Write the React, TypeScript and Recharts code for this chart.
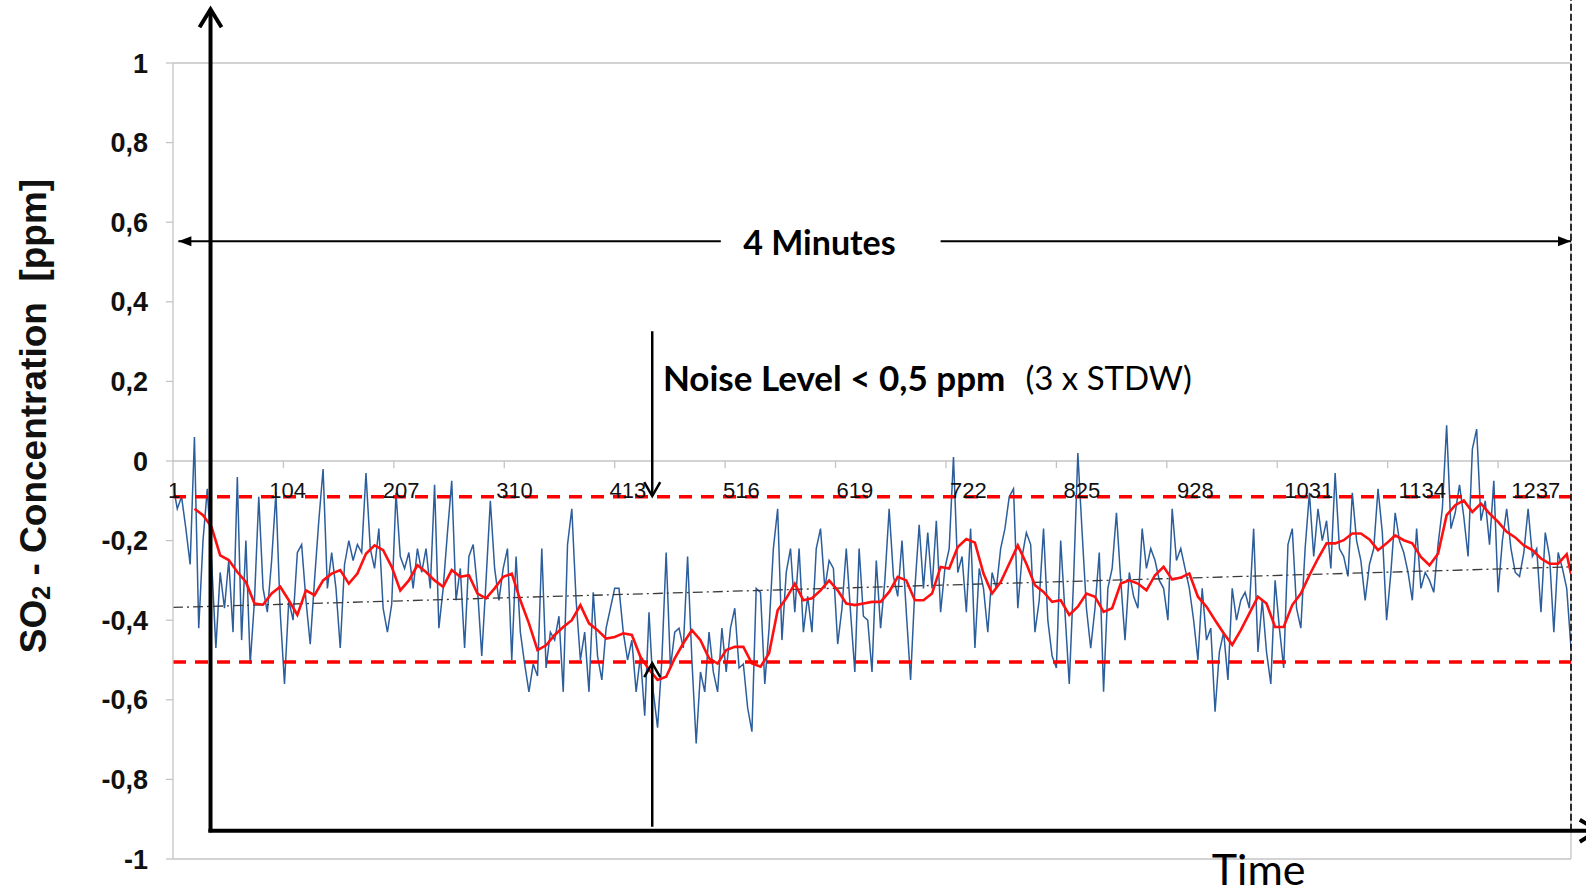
import React from "react";
import {
  LineChart,
  Line,
  XAxis,
  YAxis,
  ReferenceLine,
  ReferenceDot,
} from "recharts";

// SO2 raw signal, read every 4th sample (sample 1, 5, 9, ... 1305)
const SO2_FIRST = 1;
const SO2_STEP = 4;
const so2Values = [
  -0.06, -0.12, -0.09, -0.17, -0.26, 0.06, -0.42, -0.2, -0.07, -0.25,
  -0.47, -0.28, -0.37, -0.25, -0.43, -0.04, -0.45, -0.2, -0.51, -0.35,
  -0.09, -0.32, -0.38, -0.25, -0.08, -0.38, -0.56, -0.35, -0.4, -0.23,
  -0.21, -0.35, -0.46, -0.3, -0.15, -0.02, -0.32, -0.23, -0.32, -0.47,
  -0.26, -0.2, -0.25, -0.21, -0.23, -0.03, -0.22, -0.27, -0.17, -0.37,
  -0.43, -0.36, -0.08, -0.24, -0.27, -0.23, -0.32, -0.22,
  -0.28, -0.22, -0.32, -0.06, -0.42, -0.32, -0.18, -0.05, -0.35, -0.27,
  -0.47, -0.24, -0.21, -0.32, -0.49, -0.3, -0.1, -0.27, -0.35, -0.27,
  -0.22, -0.5, -0.24, -0.43, -0.51, -0.58, -0.51, -0.54, -0.22, -0.52,
  -0.43, -0.45, -0.39, -0.58, -0.21, -0.12, -0.35, -0.5, -0.43, -0.58,
  -0.33, -0.49, -0.55, -0.42, -0.37, -0.32, -0.32, -0.43, -0.5, -0.45,
  -0.58, -0.49, -0.64, -0.38, -0.58, -0.67, -0.5, -0.23, -0.52, -0.43,
  -0.42, -0.47, -0.24, -0.5, -0.71, -0.53, -0.58, -0.43,
  -0.53, -0.58, -0.42, -0.53, -0.42, -0.37, -0.52, -0.51, -0.62, -0.68,
  -0.32, -0.33, -0.56, -0.42, -0.22, -0.12, -0.45, -0.28, -0.22, -0.38,
  -0.22, -0.43, -0.34, -0.43, -0.22, -0.17, -0.32, -0.25, -0.27, -0.46,
  -0.37, -0.22, -0.38, -0.53, -0.22, -0.39, -0.4, -0.53, -0.25, -0.42,
  -0.3, -0.12, -0.29, -0.34, -0.2, -0.38, -0.55, -0.32, -0.16, -0.32,
  -0.18, -0.32, -0.15, -0.38, -0.27, -0.22, 0.01, -0.28, -0.24, -0.38,
  -0.17, -0.47, -0.27, -0.32, -0.43, -0.28, -0.32,
  -0.22, -0.17, -0.09, -0.07, -0.37, -0.24, -0.18, -0.21, -0.43, -0.35,
  -0.17, -0.4, -0.49, -0.52, -0.2, -0.38, -0.56, -0.3, 0.02, -0.18,
  -0.37, -0.47, -0.37, -0.23, -0.58, -0.32, -0.27, -0.13, -0.3, -0.45,
  -0.28, -0.34, -0.37, -0.17, -0.27, -0.22, -0.25, -0.3, -0.32, -0.4,
  -0.12, -0.25, -0.22, -0.27, -0.32, -0.4, -0.5, -0.32, -0.45, -0.42,
  -0.63, -0.48, -0.43, -0.55, -0.32, -0.4, -0.35, -0.33, -0.37, -0.17,
  -0.48, -0.35, -0.48, -0.56, -0.3, -0.42, -0.52, -0.21,
  -0.17, -0.37, -0.42, -0.22, -0.08, -0.24, -0.12, -0.2, -0.15, -0.27,
  -0.03, -0.22, -0.24, -0.29, -0.08, -0.2, -0.25, -0.35, -0.26, -0.22,
  -0.07, -0.18, -0.4, -0.28, -0.13, -0.2, -0.23, -0.28, -0.35, -0.17,
  -0.32, -0.28, -0.3, -0.33, -0.21, -0.12, 0.09, -0.17, -0.13, -0.06,
  -0.14, -0.24, 0.03, 0.08, -0.15, -0.1, -0.21, -0.05, -0.33, -0.2,
  -0.12, -0.22, -0.28, -0.29, -0.23, -0.12, -0.24, -0.22, -0.38, -0.18,
  -0.24, -0.43, -0.23, -0.27, -0.32, -0.47,
];

// moving average (red), read every 8th sample from sample 21
const AVG_FIRST = 21;
const AVG_STEP = 8;
const avgValues = [
  -0.12, -0.136, -0.166, -0.237, -0.249, -0.279, -0.304, -0.358, -0.361, -0.333,
  -0.316, -0.35, -0.387, -0.325, -0.337, -0.3, -0.283, -0.274, -0.308, -0.283,
  -0.233, -0.212, -0.224, -0.266, -0.325, -0.3, -0.262,
  -0.279, -0.3, -0.316, -0.274, -0.291, -0.287, -0.333, -0.345, -0.32, -0.291,
  -0.283, -0.35, -0.408, -0.475, -0.463, -0.437, -0.417, -0.4, -0.362, -0.408,
  -0.425, -0.446, -0.442, -0.433, -0.437, -0.492, -0.524, -0.55, -0.542, -0.496,
  -0.458, -0.425, -0.45, -0.496,
  -0.509, -0.475, -0.467, -0.467, -0.509, -0.517, -0.483, -0.375, -0.345, -0.308,
  -0.35, -0.345, -0.325, -0.3, -0.325, -0.358, -0.362, -0.358, -0.354, -0.354,
  -0.329, -0.291, -0.3, -0.35, -0.35, -0.333, -0.266, -0.27, -0.216, -0.196,
  -0.205, -0.283, -0.333,
  -0.304, -0.258, -0.212, -0.258, -0.312, -0.329, -0.354, -0.35, -0.387, -0.366,
  -0.333, -0.341, -0.379, -0.37, -0.308, -0.3, -0.308, -0.325, -0.287, -0.266,
  -0.298, -0.293, -0.283, -0.341, -0.366, -0.4, -0.433, -0.462, -0.425, -0.383,
  -0.341, -0.358, -0.417, -0.417,
  -0.362, -0.333, -0.287, -0.245, -0.207, -0.207, -0.199, -0.182, -0.182, -0.197,
  -0.224, -0.207, -0.187, -0.199, -0.207, -0.241, -0.262, -0.233, -0.136, -0.111,
  -0.099, -0.128, -0.107, -0.132, -0.153, -0.178, -0.192, -0.212, -0.224, -0.245,
  -0.258, -0.258, -0.234,
];
const avgTail = { sample: 1305, value: -0.283 };

// linear trend (dash-dot)
const trendSamples = [1, 1305];
const trendValues = [-0.368, -0.266];

// category labels written on the zero line
const xTickLabels = [1, 104, 207, 310, 413, 516, 619, 722, 825, 928, 1031, 1134, 1237];
const yTicks = [1, 0.8, 0.6, 0.4, 0.2, 0, -0.2, -0.4, -0.6, -0.8, -1];

// noise band (red dashed)
const NOISE_HIGH = -0.09;
const NOISE_LOW = -0.505;

const LAST_SAMPLE = 1305;
// the printed labels are spread a little wider than the tick marks
const LABEL_SPREAD = (LAST_SAMPLE - 1) / 1269;

const so2Data = so2Values.map((v, i) => ({ sample: SO2_FIRST + i * SO2_STEP, value: v }));
const avgData = [
  ...avgValues.map((v, i) => ({ sample: AVG_FIRST + i * AVG_STEP, value: v })),
  avgTail,
];
const trendData = trendSamples.map((s, i) => ({ sample: s, value: trendValues[i] }));

const ARIAL = '"Liberation Sans", Arial, sans-serif';
const CALIBRI = 'Lato, "Open Sans", sans-serif';
const GRAY = "#c4c4c4";

type ArrowProps = {
  x1?: number;
  y1?: number;
  x2?: number;
  y2?: number;
  width?: number;
  start?: boolean;
  end?: boolean;
  filled?: boolean;
  len?: number;
  half?: number;
};

const headPoints = (tx: number, ty: number, fx: number, fy: number, len: number, half: number) => {
  const a = Math.atan2(ty - fy, tx - fx);
  const bx = tx - len * Math.cos(a);
  const by = ty - len * Math.sin(a);
  const nx = -Math.sin(a) * half;
  const ny = Math.cos(a) * half;
  return `${bx + nx},${by + ny} ${tx},${ty} ${bx - nx},${by - ny}`;
};

// arrow drawn between the end points Recharts computes for a segment
const Arrow = ({
  x1 = 0,
  y1 = 0,
  x2 = 0,
  y2 = 0,
  width = 3,
  start = false,
  end = true,
  filled = false,
  len = 16,
  half = 9,
}: ArrowProps) => {
  const head = (tx: number, ty: number, fx: number, fy: number) =>
    filled ? (
      <polygon points={headPoints(tx, ty, fx, fy, len, half)} fill="#000" />
    ) : (
      <polyline
        points={headPoints(tx, ty, fx, fy, len, half)}
        fill="none"
        stroke="#000"
        strokeWidth={width}
      />
    );
  return (
    <g>
      <line x1={x1} y1={y1} x2={x2} y2={y2} stroke="#000" strokeWidth={width} />
      {start && head(x1, y1, x2, y2)}
      {end && head(x2, y2, x1, y1)}
    </g>
  );
};

const YTitle = (props: any) => {
  const vb = props.viewBox || { x: 0, y: 63, width: 173, height: 796 };
  const cx = vb.x + 33;
  const cy = vb.y + vb.height / 2 - 45;
  return (
    <text
      x={cx}
      y={cy}
      transform={`rotate(-90 ${cx} ${cy})`}
      textAnchor="middle"
      dominantBaseline="central"
      fontFamily={ARIAL}
      fontWeight={700}
      fontSize={37}
      fill="#111"
      style={{ whiteSpace: "pre" }}
    >
      SO
      <tspan fontSize={25} dy={8}>
        2
      </tspan>
      <tspan dy={-8}>{" - Concentration  [ppm]"}</tspan>
    </text>
  );
};

const fmtY = (v: number) => String(Math.round(v * 10) / 10).replace(".", ",");

export default function App() {
  return (
    <div style={{ position: "absolute", left: 0, top: 0, width: 1586, height: 893, background: "#fff" }}>
      <LineChart width={1586} height={893} margin={{ top: 63, right: 15, bottom: 34, left: 0 }}>
        <XAxis type="number" dataKey="sample" domain={[1, LAST_SAMPLE]} allowDataOverflow hide />
        <YAxis
          type="number"
          domain={[-1, 1]}
          ticks={yTicks}
          interval={0}
          allowDataOverflow
          width={173}
          tickSize={7}
          tickMargin={18}
          axisLine={{ stroke: GRAY, strokeWidth: 1.3 }}
          tickLine={{ stroke: GRAY, strokeWidth: 1.3 }}
          tick={{ fill: "#111", fontSize: 27, fontWeight: 700, fontFamily: ARIAL }}
          tickFormatter={fmtY}
          label={<YTitle />}
        />

        {/* plot frame and zero axis */}
        <ReferenceLine y={1} stroke={GRAY} strokeWidth={1.3} />
        <ReferenceLine y={-1} stroke={GRAY} strokeWidth={1.3} />
        <ReferenceLine x={LAST_SAMPLE} stroke={GRAY} strokeWidth={1.3} />
        <ReferenceLine y={0} stroke={GRAY} strokeWidth={1.3} />
        {xTickLabels.slice(1).map((t) => (
          <ReferenceLine
            key={`tm${t}`}
            segment={[
              { x: t, y: 0 },
              { x: t, y: -0.018 },
            ]}
            stroke={GRAY}
            strokeWidth={1.3}
          />
        ))}
        {xTickLabels.map((t) => (
          <ReferenceDot
            key={`tl${t}`}
            x={1 + t * LABEL_SPREAD}
            y={0}
            r={0}
            ifOverflow="visible"
            shape={(p: any) => (
              <text
                x={p.cx}
                y={p.cy + 29}
                textAnchor="middle"
                dominantBaseline="central"
                fontFamily={ARIAL}
                fontSize={22}
                fill="#111"
              >
                {t}
              </text>
            )}
          />
        ))}

        <Line
          data={so2Data}
          dataKey="value"
          stroke="#2c5e9c"
          strokeWidth={1.5}
          dot={false}
          activeDot={false}
          isAnimationActive={false}
        />
        <Line
          data={trendData}
          dataKey="value"
          stroke="#3a3a3a"
          strokeWidth={1.3}
          strokeDasharray="10 4 2 4"
          dot={false}
          activeDot={false}
          isAnimationActive={false}
        />
        <Line
          data={avgData}
          dataKey="value"
          stroke="#ff1010"
          strokeWidth={2.6}
          dot={false}
          activeDot={false}
          isAnimationActive={false}
        />

        <ReferenceLine y={NOISE_HIGH} stroke="#ff0000" strokeWidth={3.5} strokeDasharray="13 9" />
        <ReferenceLine y={NOISE_LOW} stroke="#ff0000" strokeWidth={3.5} strokeDasharray="13 9" />

        {/* right boundary of the 4 minute window */}
        <ReferenceLine
          segment={[
            { x: LAST_SAMPLE, y: -0.929 },
            { x: LAST_SAMPLE, y: 1.16 },
          ]}
          ifOverflow="visible"
          stroke="#000"
          strokeWidth={1.6}
          strokeDasharray="7 3"
        />

        {/* hand drawn axes */}
        <ReferenceLine
          segment={[
            { x: 36, y: -0.933 },
            { x: 36, y: 1.135 },
          ]}
          ifOverflow="visible"
          shape={(p: any) => <Arrow {...p} width={4} len={18} half={11} />}
        />
        <ReferenceLine
          segment={[
            { x: 34, y: -0.929 },
            { x: 1330, y: -0.929 },
          ]}
          ifOverflow="visible"
          shape={(p: any) => <Arrow {...p} width={4} len={18} half={11} />}
        />

        {/* 4 minutes span */}
        <ReferenceLine
          segment={[
            { x: 512, y: 0.552 },
            { x: 6, y: 0.552 },
          ]}
          ifOverflow="visible"
          shape={(p: any) => <Arrow {...p} width={2} filled len={13} half={5} />}
        />
        <ReferenceLine
          segment={[
            { x: 717, y: 0.552 },
            { x: LAST_SAMPLE, y: 0.552 },
          ]}
          ifOverflow="visible"
          shape={(p: any) => <Arrow {...p} width={2} filled len={13} half={5} />}
        />
        <ReferenceDot
          x={604}
          y={0.552}
          r={0}
          ifOverflow="visible"
          shape={(p: any) => (
            <text
              x={p.cx}
              y={p.cy}
              textAnchor="middle"
              dominantBaseline="central"
              fontFamily={CALIBRI}
              fontWeight={700}
              fontSize={34}
              fill="#000"
            >
              4 Minutes
            </text>
          )}
        />

        {/* noise level arrows */}
        <ReferenceLine
          segment={[
            { x: 448, y: 0.326 },
            { x: 448, y: -0.088 },
          ]}
          ifOverflow="visible"
          shape={(p: any) => <Arrow {...p} width={2.5} len={14} half={8} />}
        />
        <ReferenceLine
          segment={[
            { x: 448, y: -0.919 },
            { x: 448, y: -0.508 },
          ]}
          ifOverflow="visible"
          shape={(p: any) => <Arrow {...p} width={2.5} len={14} half={8} />}
        />
        <ReferenceDot
          x={458}
          y={0.21}
          r={0}
          ifOverflow="visible"
          shape={(p: any) => (
            <text
              x={p.cx}
              y={p.cy}
              dominantBaseline="central"
              fontFamily={CALIBRI}
              fontSize={35}
              fill="#000"
            >
              <tspan fontWeight={700}>Noise Level &lt; 0,5 ppm</tspan>
              <tspan dx={20} fontWeight={400} fontSize={33}>
                (3 x STDW)
              </tspan>
            </text>
          )}
        />

        <ReferenceDot
          x={970}
          y={-1.066}
          r={0}
          ifOverflow="visible"
          shape={(p: any) => (
            <text x={p.cx} y={p.cy} fontFamily={CALIBRI} fontSize={43} fill="#000">
              Time
            </text>
          )}
        />
      </LineChart>
    </div>
  );
}
